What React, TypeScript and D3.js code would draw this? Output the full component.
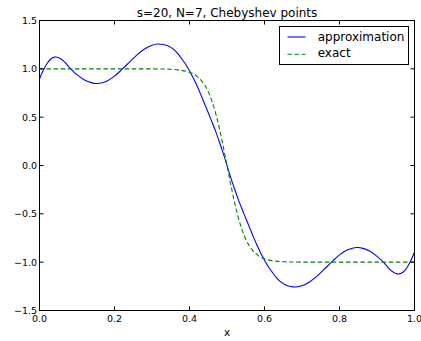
import React from "react";
import * as d3 from "d3";

const title = "s=20, N=7, Chebyshev points";
const xLabel = "x";

const approxX = [
  0, 0.01, 0.02, 0.03, 0.04, 0.05, 0.06, 0.07, 0.083, 0.1, 0.12, 0.14, 0.15, 0.16, 0.18, 0.2,
  0.22, 0.24, 0.26, 0.28, 0.3, 0.316, 0.33, 0.34, 0.35, 0.36, 0.37, 0.38, 0.39, 0.4, 0.41, 0.42,
  0.43, 0.44, 0.45, 0.46, 0.47, 0.48, 0.49, 0.5,
  0.51, 0.52, 0.53, 0.54, 0.55, 0.56, 0.57, 0.58, 0.59, 0.6, 0.61, 0.62, 0.63, 0.64, 0.65, 0.66,
  0.67, 0.684, 0.7, 0.72, 0.74, 0.76, 0.78, 0.8, 0.82, 0.84, 0.85, 0.86, 0.88, 0.9, 0.917, 0.93,
  0.94, 0.95, 0.96, 0.97, 0.98, 0.99, 1.0,
];
const approxY = [
  0.894, 0.985, 1.055, 1.102, 1.121, 1.117, 1.094, 1.058, 1.0, 0.94, 0.885, 0.855, 0.848, 0.85, 0.875, 0.925,
  0.995, 1.07, 1.145, 1.205, 1.245, 1.257, 1.252, 1.242, 1.222, 1.193, 1.152, 1.1, 1.045, 0.98, 0.905, 0.825,
  0.735, 0.64, 0.545, 0.45, 0.35, 0.24, 0.125, 0.0,
  -0.125, -0.24, -0.35, -0.45, -0.545, -0.64, -0.735, -0.825, -0.905, -0.98, -1.045, -1.1, -1.152, -1.193, -1.222, -1.242,
  -1.252, -1.257, -1.245, -1.205, -1.145, -1.07, -0.995, -0.925, -0.875, -0.85, -0.848, -0.855, -0.885, -0.94, -1.0, -1.058,
  -1.094, -1.117, -1.121, -1.102, -1.055, -0.985, -0.894,
];

const exactX = [
  0, 0.1, 0.2, 0.25, 0.3, 0.33, 0.35, 0.37, 0.39, 0.4, 0.41, 0.42, 0.43, 0.44, 0.45, 0.46, 0.47, 0.48, 0.49,
  0.5, 0.51, 0.52, 0.53, 0.54, 0.55, 0.56, 0.57, 0.58, 0.59, 0.6, 0.61, 0.63, 0.65, 0.67, 0.7, 0.75, 0.8, 0.9, 1.0,
];
const exactY = [
  1.0, 1.0, 1.0, 0.9999, 0.9993, 0.998, 0.995, 0.989, 0.976, 0.964, 0.947, 0.922, 0.885, 0.834, 0.762, 0.664, 0.537, 0.38, 0.197,
  0.0, -0.197, -0.38, -0.537, -0.664, -0.762, -0.834, -0.885, -0.922, -0.947, -0.964, -0.976, -0.989, -0.995, -0.998, -0.9993, -0.9999, -1.0, -1.0, -1.0,
];

const xTicks = [0, 0.2, 0.4, 0.6, 0.8, 1.0];
const xTickLabels = ["0.0", "0.2", "0.4", "0.6", "0.8", "1.0"];
const yTicks = [-1.5, -1.0, -0.5, 0.0, 0.5, 1.0, 1.5];
const yTickLabels = ["\u22121.5", "\u22121.0", "\u22120.5", "0.0", "0.5", "1.0", "1.5"];

const seriesNames = ["approximation", "exact"];
const seriesColors = ["#0000ff", "#008000"];

const W = 421;
const H = 341;
const L = 39.5;
const R = 414.5;
const T = 20.5;
const B = 310.5;
const FONT = "'DejaVu Sans', sans-serif";

export default function App() {
  const x = d3.scaleLinear().domain([0, 1]).range([L, R]);
  const y = d3.scaleLinear().domain([-1.5, 1.5]).range([B, T]);

  const approx = approxX.map((v, i) => [v, approxY[i]] as [number, number]);
  const exact = exactX.map((v, i) => [v, exactY[i]] as [number, number]);

  const line = d3
    .line<[number, number]>()
    .x((d) => x(d[0]))
    .y((d) => y(d[1]))
    .curve(d3.curveCatmullRom.alpha(0.5));

  const tl = 4;

  return (
    <div style={{ position: "absolute", left: 0, top: 0 }}>
      <svg width={W} height={H} style={{ display: "block", background: "#fff" }}>
        <defs>
          <clipPath id="plotclip">
            <rect x={L} y={T} width={R - L} height={B - T} />
          </clipPath>
        </defs>
        <rect x={0} y={0} width={W} height={H} fill="#fff" />
        <g clipPath="url(#plotclip)">
          <path d={line(approx) || ""} fill="none" stroke={seriesColors[0]} strokeWidth={1.1} />
          <path
            d={line(exact) || ""}
            fill="none"
            stroke={seriesColors[1]}
            strokeWidth={1.1}
            strokeDasharray="4.5 2.6"
          />
        </g>
        <rect x={L} y={T} width={R - L} height={B - T} fill="none" stroke="#000" strokeWidth={1} />
        {xTicks.map((t, i) => (
          <g key={"xt" + i}>
            <line x1={x(t)} x2={x(t)} y1={B} y2={B - tl} stroke="#000" strokeWidth={1} />
            <line x1={x(t)} x2={x(t)} y1={T} y2={T + tl} stroke="#000" strokeWidth={1} />
            <text x={x(t)} y={322} fontSize={9.5} fontFamily={FONT} textAnchor="middle" fill="#000">
              {xTickLabels[i]}
            </text>
          </g>
        ))}
        {yTicks.map((t, i) => (
          <g key={"yt" + i}>
            <line x1={L} x2={L + tl} y1={y(t)} y2={y(t)} stroke="#000" strokeWidth={1} />
            <line x1={R} x2={R - tl} y1={y(t)} y2={y(t)} stroke="#000" strokeWidth={1} />
            <text x={37} y={y(t) + 3.4} fontSize={9.5} fontFamily={FONT} textAnchor="end" fill="#000">
              {yTickLabels[i]}
            </text>
          </g>
        ))}
        <text x={(L + R) / 2} y={17} fontSize={12} fontFamily={FONT} textAnchor="middle" fill="#000">
          {title}
        </text>
        <text x={(L + R) / 2} y={335.5} fontSize={10.5} fontFamily={FONT} textAnchor="middle" fill="#000">
          {xLabel}
        </text>
        <g>
          <rect x={279.5} y={26.5} width={129} height={38} fill="#fff" stroke="#000" strokeWidth={1} />
          <line x1={287.5} x2={305.5} y1={37} y2={37} stroke={seriesColors[0]} strokeWidth={1.1} />
          <line
            x1={287.5}
            x2={305.5}
            y1={54.3}
            y2={54.3}
            stroke={seriesColors[1]}
            strokeWidth={1.1}
            strokeDasharray="4.5 2.6"
          />
          <text x={317.7} y={40.5} fontSize={12} fontFamily={FONT} fill="#000">
            {seriesNames[0]}
          </text>
          <text x={317.7} y={57.2} fontSize={12} fontFamily={FONT} fill="#000">
            {seriesNames[1]}
          </text>
        </g>
      </svg>
    </div>
  );
}
